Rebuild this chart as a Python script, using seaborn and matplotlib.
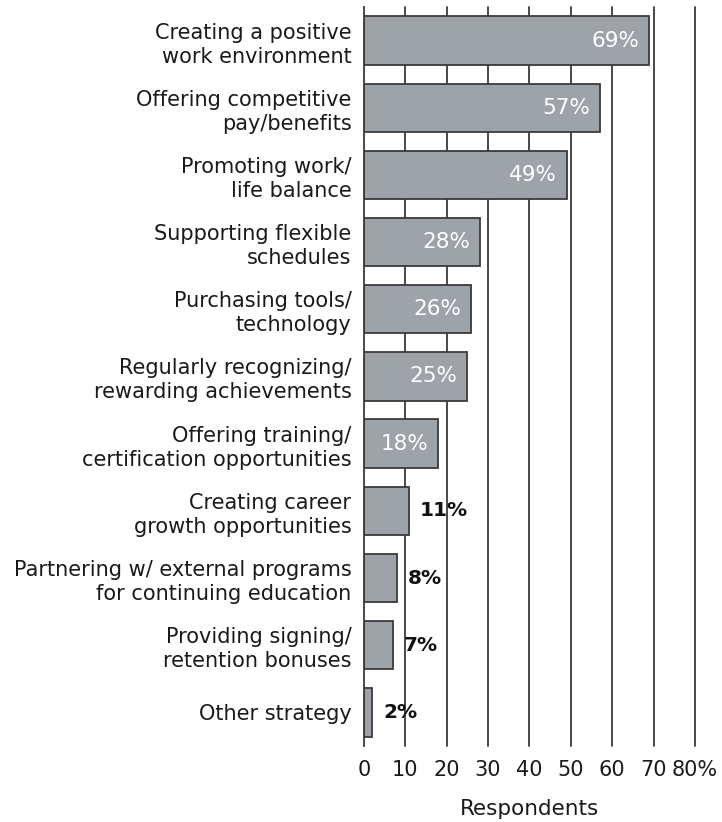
import matplotlib
matplotlib.use("Agg")
import matplotlib.pyplot as plt
import seaborn as sns
import pandas as pd

strategies = [
    "Creating a positive\nwork environment",
    "Offering competitive\npay/benefits",
    "Promoting work/\nlife balance",
    "Supporting flexible\nschedules",
    "Purchasing tools/\ntechnology",
    "Regularly recognizing/\nrewarding achievements",
    "Offering training/\ncertification opportunities",
    "Creating career\ngrowth opportunities",
    "Partnering w/ external programs\nfor continuing education",
    "Providing signing/\nretention bonuses",
    "Other strategy",
]
percent = [69, 57, 49, 28, 26, 25, 18, 11, 8, 7, 2]
x_ticks = [0, 10, 20, 30, 40, 50, 60, 70, 80]
x_tick_labels = ["0", "10", "20", "30", "40", "50", "60", "70", "80%"]

df = pd.DataFrame({"strategy": strategies, "percent": percent})

sns.set_theme(style="white")
plt.rcParams["font.family"] = ["DejaVu Sans"]

fig = plt.figure(figsize=(7.22, 8.22), dpi=100)
ax = fig.add_axes([0.504, 0.0925, 0.4586, 0.899])

bar_color = "#9ea3aa"
edge_color = "#3a3a3a"
text_color = "#1a1a1a"
fs = 15

sns.barplot(data=df, y="strategy", x="percent", orient="h", ax=ax,
            color=bar_color, edgecolor=edge_color, linewidth=1.3,
            width=0.72, saturation=1, zorder=3)

ax.set_xlim(0, 80)
ax.set_ylim(len(strategies) - 0.5, -0.5)
ax.set_xticks(x_ticks)
ax.set_xticklabels(x_tick_labels, fontsize=fs, color=text_color)
ax.tick_params(axis="x", length=0, pad=10)
ax.tick_params(axis="y", length=0, pad=9, labelcolor=text_color)
for lbl in ax.get_yticklabels():
    lbl.set_fontsize(fs)
    lbl.set_linespacing(1.25)

# vertical gridlines at each tick, drawn behind the bars
for xv in x_ticks[1:]:
    ax.axvline(xv, color="#3a3a3a", linewidth=1.3, zorder=1, clip_on=False)

for side in ["top", "right", "bottom"]:
    ax.spines[side].set_visible(False)
ax.spines["left"].set_color("#3a3a3a")
ax.spines["left"].set_linewidth(1.3)
ax.spines["left"].set_zorder(4)

ax.set_ylabel("")
ax.set_xlabel("Respondents", fontsize=15.5, color=text_color, labelpad=14)

for i, v in enumerate(percent):
    if v >= 15:
        ax.text(v - 2.4, i, f"{v}%", ha="right", va="center",
                color="white", fontsize=15.5, zorder=5)
    else:
        ax.text(v + 2.6, i, f"{v}%", ha="left", va="center",
                color="#111111", fontsize=14.5, fontweight="bold", zorder=5)

fig.savefig("out.png", dpi=100)
